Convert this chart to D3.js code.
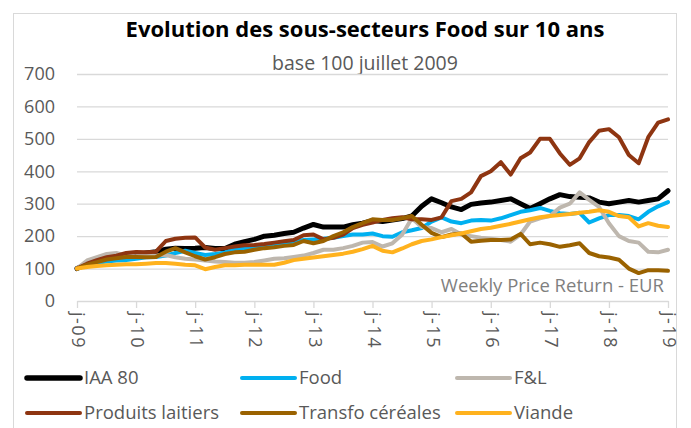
<!DOCTYPE html>
<html><head><meta charset="utf-8">
<script src="https://cdn.jsdelivr.net/npm/d3@7"></script>
<style>
body{margin:0;background:#fff;}
svg{font-family: 'Open Sans', Lato, sans-serif;}
</style></head><body>
<svg id="c" width="691" height="428"></svg>
<script>
const tickLabels = ["j-09","j-10","j-11","j-12","j-13","j-14","j-15","j-16","j-17","j-18","j-19"];
const yTicks = [0,100,200,300,400,500,600,700];
const seriesNames = ["IAA 80","Food","F&L","Produits laitiers","Transfo céréales","Viande"];
const seriesColors = ["#000000","#00B0F0","#BEB7AE","#8E3511","#9A6200","#FFB21E"];

const iaa80 = [100,115,122,128,132,135,142,148,152,160,163,162,163,165,162,162,175,183,190,200,203,208,212,225,236,228,228,228,235,240,248,245,250,254,262,292,315,303,290,282,298,302,305,310,315,300,285,300,315,328,322,320,318,305,300,305,310,305,310,315,340];
const food = [100,110,118,122,125,126,130,135,136,140,148,155,148,142,145,150,160,163,165,170,172,175,182,188,190,192,195,200,205,205,208,200,198,212,218,225,245,258,245,240,248,250,248,255,265,275,280,287,278,271,268,272,242,255,265,265,262,252,275,292,305];
const fl = [100,125,135,145,148,140,138,145,140,142,135,130,128,125,122,120,118,118,120,125,130,132,136,140,148,158,158,163,170,180,182,168,178,205,255,228,225,212,222,205,200,195,192,188,183,205,245,255,262,288,300,335,312,290,240,200,185,180,152,150,158];
const laitiers = [100,115,126,135,140,148,151,150,152,185,192,195,196,165,158,163,168,172,173,176,180,184,188,203,205,190,195,205,225,235,242,250,255,258,252,252,250,258,308,315,335,385,400,428,390,440,458,500,500,455,420,440,490,525,530,505,450,425,505,550,560];
const cereales = [100,112,120,128,132,136,136,135,136,152,163,150,138,128,135,145,150,152,158,163,166,170,173,185,178,185,200,212,228,240,252,250,250,255,262,235,210,197,205,208,183,186,188,188,190,207,175,180,175,167,172,178,148,138,134,127,100,86,95,95,93];
const viande = [100,105,108,110,112,113,113,115,117,117,115,112,110,98,105,110,110,112,112,112,112,118,126,130,134,138,142,146,152,160,170,155,150,162,175,185,190,197,203,208,215,222,226,232,238,245,252,258,262,265,268,272,275,280,275,262,258,230,240,232,228];
const seriesValues = [iaa80, food, fl, laitiers, cereales, viande];
const seriesWidths = [5,4,4,4,4,4];

const svg = d3.select("#c");
const start = new Date(2009,6,1), end = new Date(2019,6,1);
const dates = d3.timeMonth.range(start, d3.timeMonth.offset(end,1), 2);
const yearDates = d3.timeYear.range(new Date(2009,0,1), new Date(2020,0,1)).map(d=>new Date(d.getFullYear(),6,1));

const x = d3.scaleTime().domain([start,end]).range([77,668]);
const y = d3.scaleLinear().domain([0,700]).range([301,74]);

// frame
svg.append("rect").attr("x",13.5).attr("y",13.5).attr("width",663).attr("height",430)
  .attr("fill","none").attr("stroke","#D9D9D9").attr("stroke-width",1);

// title
svg.append("text").attr("x",365).attr("y",37).attr("text-anchor","middle")
  .attr("font-size",22).attr("font-weight","bold").attr("fill","#000").text("Evolution des sous-secteurs Food sur 10 ans");
svg.append("text").attr("x",365).attr("y",70).attr("text-anchor","middle")
  .attr("font-size",19.5).attr("fill","#595959").text("base 100 juillet 2009");

// gridlines
const grid = svg.append("g").attr("transform","translate(77,0)")
  .call(d3.axisLeft(y).tickValues(yTicks.filter(v=>v>0)).tickSize(-591).tickFormat(""));
grid.select(".domain").remove();
grid.selectAll("line").attr("stroke","#D9D9D9").attr("stroke-width",1.3);

// y axis labels
const ya = svg.append("g").attr("transform","translate(77,0)")
  .call(d3.axisLeft(y).tickValues(yTicks).tickSize(0).tickPadding(22));
ya.select(".domain").remove();
ya.selectAll("text").attr("font-size",18).attr("fill","#595959").attr("font-family","'Open Sans', sans-serif");

// x axis
const xa = svg.append("g").attr("transform","translate(0,301)")
  .call(d3.axisBottom(x).tickValues(yearDates).tickFormat((d,i)=>tickLabels[i]).tickSize(7).tickSizeOuter(0));
xa.select(".domain").attr("stroke","#D9D9D9").attr("stroke-width",1.3);
xa.selectAll("line").attr("stroke","#D9D9D9").attr("stroke-width",1.3);
xa.selectAll("text").attr("font-size",18).attr("fill","#595959")
  .attr("font-family","'Open Sans', sans-serif").attr("letter-spacing","1.5px")
  .attr("text-anchor","start").attr("transform","rotate(90)")
  .attr("x",11).attr("y",0).attr("dy","0.3em");

// watermark
svg.append("text").attr("x",664).attr("y",292).attr("text-anchor","end")
  .attr("font-size",18.5).attr("fill","#7F7F7F").text("Weekly Price Return - EUR");

// lines
const line = d3.line().x((d,i)=>x(dates[i])).y(d=>y(d));
seriesValues.forEach((vals,k)=>{
  svg.append("path").datum(vals).attr("d",line).attr("fill","none")
    .attr("stroke",seriesColors[k]).attr("stroke-width",seriesWidths[k])
    .attr("stroke-linejoin","round").attr("stroke-linecap","round");
});

// legend
const legX = [27,242,457], legY = [378,413];
seriesNames.forEach((n,k)=>{
  const lx = legX[k%3], ly = legY[Math.floor(k/3)];
  svg.append("line").attr("x1",lx).attr("x2",lx+53).attr("y1",ly).attr("y2",ly)
    .attr("stroke",seriesColors[k]).attr("stroke-width",k===0?5.5:4).attr("stroke-linecap","round");
  svg.append("text").attr("x",lx+57).attr("y",ly).attr("dy","0.35em")
    .attr("font-size",18.5).attr("fill","#595959").text(n);
});
</script>
</body></html>
